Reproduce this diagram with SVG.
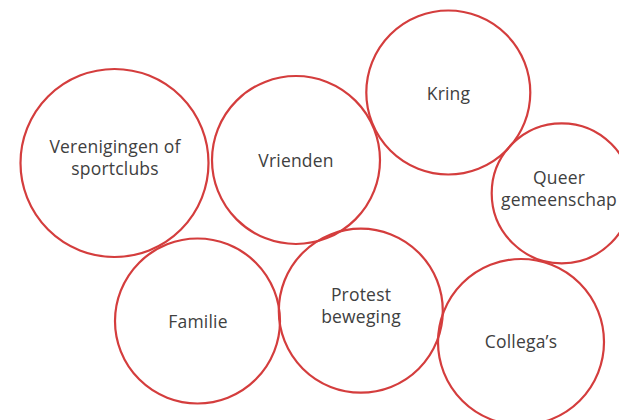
<svg xmlns="http://www.w3.org/2000/svg" width="619" height="420" viewBox="0 0 619 420">
<style>
.c{fill:none;stroke:#d43d3d;stroke-width:2.2}
.t{font-family:"Open Sans","Liberation Sans",sans-serif;font-size:17.5px;font-weight:400;letter-spacing:0.2px;fill:#404040;text-anchor:middle}
</style>
<rect width="619" height="420" fill="#fff"/>
<g id="verenigingen"><circle class="c" cx="114.5" cy="163" r="94"/><text class="t" x="115" y="153">Verenigingen of</text><text class="t" x="115" y="175">sportclubs</text></g>
<g id="vrienden"><circle class="c" cx="296" cy="160" r="84"/><text class="t" x="296" y="166.5">Vrienden</text></g>
<g id="kring"><circle class="c" cx="448.3" cy="92.5" r="82"/><text class="t" x="448.5" y="100">Kring</text></g>
<g id="queer"><circle class="c" cx="561.7" cy="193.3" r="70"/><text class="t" x="559" y="183.5">Queer</text><text class="t" x="559" y="205.5">gemeenschap</text></g>
<g id="familie"><circle class="c" cx="197.5" cy="321" r="82.5"/><text class="t" x="198" y="328">Familie</text></g>
<g id="protest"><circle class="c" cx="360.8" cy="310.7" r="82"/><text class="t" x="361" y="301">Protest</text><text class="t" x="361" y="323">beweging</text></g>
<g id="collegas"><circle class="c" cx="521" cy="342" r="83"/><text class="t" x="521" y="348">Collega’s</text></g>
<g id="connectors"/>
</svg>
